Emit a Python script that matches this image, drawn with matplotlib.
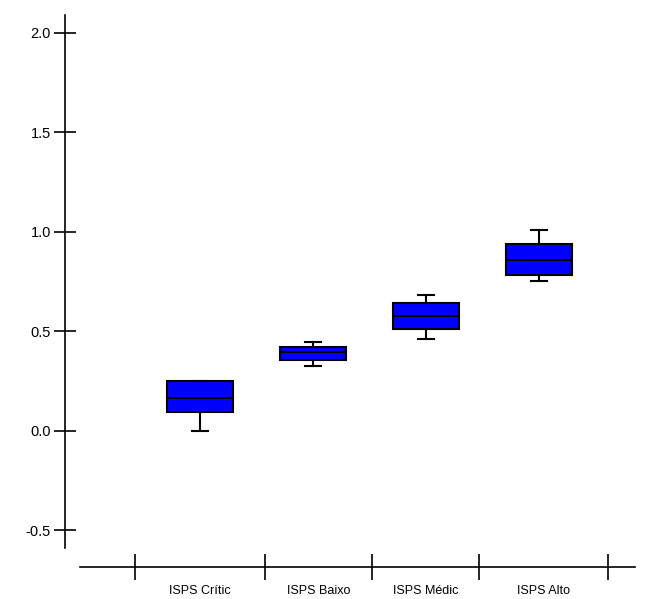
import matplotlib
matplotlib.use('Agg')
import matplotlib.pyplot as plt

# ── Data ────────────────────────────────────────────────────────────────────
categories = ['ISPS Crític', 'ISPS Baixo', 'ISPS Médic', 'ISPS Alto']
whisker_lo = [0.000, 0.327, 0.463, 0.755]
q1_values  = [0.092, 0.354, 0.513, 0.785]
medians    = [0.166, 0.394, 0.578, 0.859]
q3_values  = [0.251, 0.419, 0.644, 0.941]
whisker_hi = [0.251, 0.446, 0.680, 1.008]

y_ticks = [-0.5, 0.0, 0.5, 1.0, 1.5, 2.0]

# category bin edges along the detached x axis
bin_edges = [0.425, 1.575, 2.52, 3.47, 4.61]

plt.rcParams['font.family'] = ['Liberation Sans', 'DejaVu Sans']

fig = plt.figure(figsize=(6.5, 5.99), dpi=100)
ax = fig.add_axes([65 / 650, 1 - 548 / 599, (635 - 65) / 650, (548 - 15) / 599])

stats = []
for i, name in enumerate(categories):
    stats.append(dict(label=name, whislo=whisker_lo[i], q1=q1_values[i],
                      med=medians[i], q3=q3_values[i], whishi=whisker_hi[i],
                      fliers=[]))

positions = list(range(1, len(categories) + 1))
ax.bxp(stats, positions=positions, widths=0.59, capwidths=0.14,
       patch_artist=True, showfliers=False, manage_ticks=False,
       boxprops=dict(facecolor='#0000ff', edgecolor='black', linewidth=1.5),
       medianprops=dict(color='black', linewidth=1.5),
       whiskerprops=dict(color='black', linewidth=1.5),
       capprops=dict(color='black', linewidth=1.5))

ax.set_xlim(-0.195, 4.85)
ax.set_ylim(-0.59, 2.09)

# ── Axes styling ────────────────────────────────────────────────────────────
for side in ['top', 'right']:
    ax.spines[side].set_visible(False)
ax.spines['left'].set_linewidth(1.2)
ax.spines['bottom'].set_linewidth(1.2)
ax.spines['bottom'].set_position(('outward', 13.7))
ax.spines['bottom'].set_bounds(-0.062, 4.85)

ax.set_yticks(y_ticks)
ax.set_yticklabels([f'{v:.1f}' for v in y_ticks], fontsize=10.5)
ax.tick_params(axis='y', direction='inout', length=16, width=1.2, pad=2)

mids = [(bin_edges[i] + bin_edges[i + 1]) / 2 for i in range(len(categories))]
ax.set_xticks(bin_edges)
ax.set_xticklabels([''] * len(bin_edges))
ax.tick_params(axis='x', which='major', direction='inout', length=19, width=1.2)
ax.set_xticks(mids, minor=True)
ax.set_xticklabels(categories, minor=True, fontsize=9)
ax.tick_params(axis='x', which='minor', length=0, pad=13)

plt.savefig('out.png', dpi=100)
